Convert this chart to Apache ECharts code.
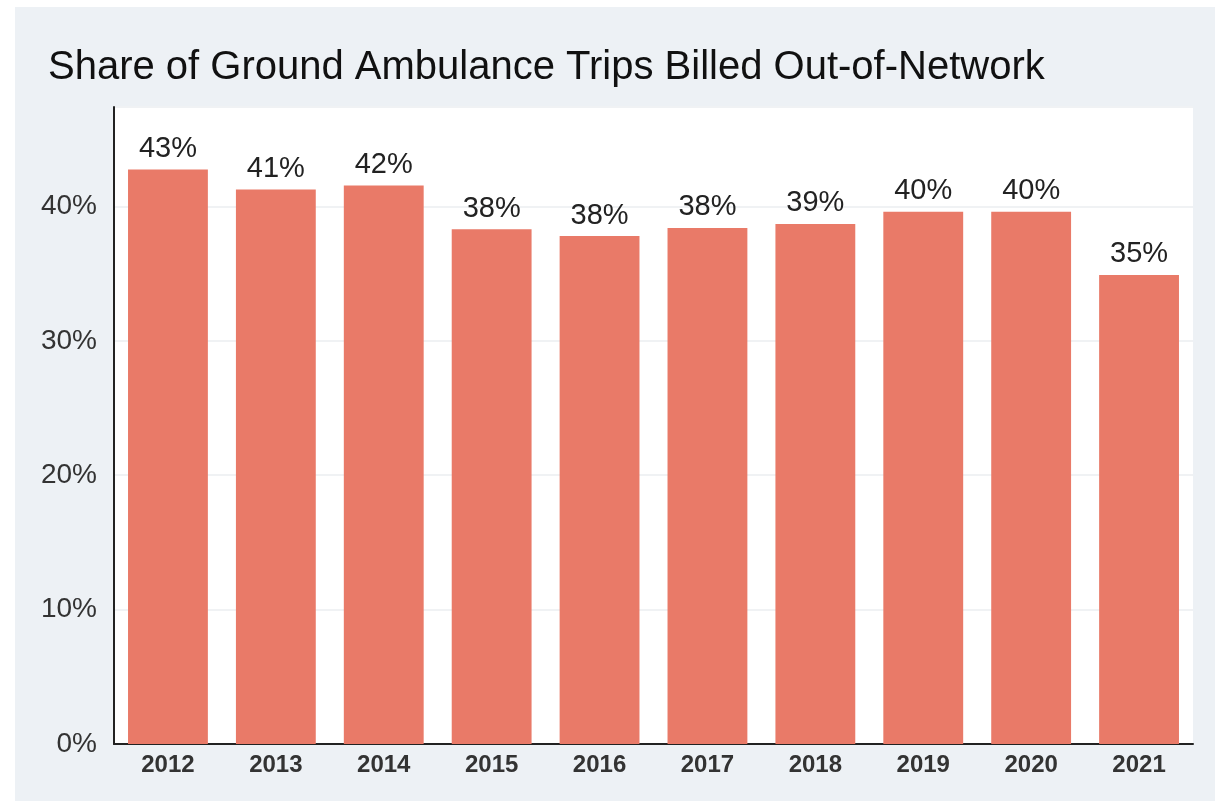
<!DOCTYPE html>
<html>
<head>
<meta charset="utf-8">
<script src="https://cdn.jsdelivr.net/npm/echarts@6/dist/echarts.min.js"></script>
<style>
  html, body { margin: 0; padding: 0; background: #fff; }
  #chart { position: absolute; left: 15px; top: 7px; width: 1200px; height: 794px; }
</style>
</head>
<body>
<div id="chart"></div>
<script type="text/javascript">
// 数据
var years = ['2012', '2013', '2014', '2015', '2016', '2017', '2018', '2019', '2020', '2021'];
var shareOut = [42.75, 41.26, 41.56, 38.3, 37.8, 38.4, 38.7, 39.6, 39.6, 34.9];

var myChart = echarts.init(document.getElementById('chart'));

var option = {
  backgroundColor: '#edf1f5',
  textStyle: { fontFamily: 'Liberation Sans, Arial, sans-serif' },
  title: {
    text: 'Share of Ground Ambulance Trips Billed Out-of-Network',
    left: 28,
    top: 36,
    textStyle: {
      color: '#111',
      fontSize: 40,
      fontWeight: 'normal'
    }
  },
  grid: {
    left: 99,
    right: 22,
    top: 100,
    bottom: 57,
    show: true,
    backgroundColor: '#fff',
    borderWidth: 0
  },
  xAxis: {
    type: 'category',
    data: years,
    axisLine: { lineStyle: { color: '#222', width: 2 } },
    axisTick: { show: false },
    axisLabel: {
      color: '#333',
      fontSize: 24,
      fontWeight: 'bold',
      margin: 9
    }
  },
  yAxis: {
    type: 'value',
    min: 0,
    max: 47.4,
    interval: 10,
    axisLine: { show: true, lineStyle: { color: '#222', width: 2 } },
    axisTick: { show: false },
    axisLabel: {
      color: '#333',
      fontSize: 28,
      margin: 17,
      showMaxLabel: false,
      formatter: function (v) { return v + '%'; }
    },
    splitLine: { lineStyle: { color: '#f0f2f4', width: 2 } }
  },
  series: [
    {
      type: 'bar',
      data: shareOut,
      barCategoryGap: '26%',
      itemStyle: { color: '#e97a68' },
      label: {
        show: true,
        position: 'top',
        distance: 6,
        color: '#222',
        fontSize: 29,
        formatter: function (p) { return Math.round(p.value) + '%'; }
      }
    }
  ]
};

myChart.setOption(option);
</script>
</body>
</html>
